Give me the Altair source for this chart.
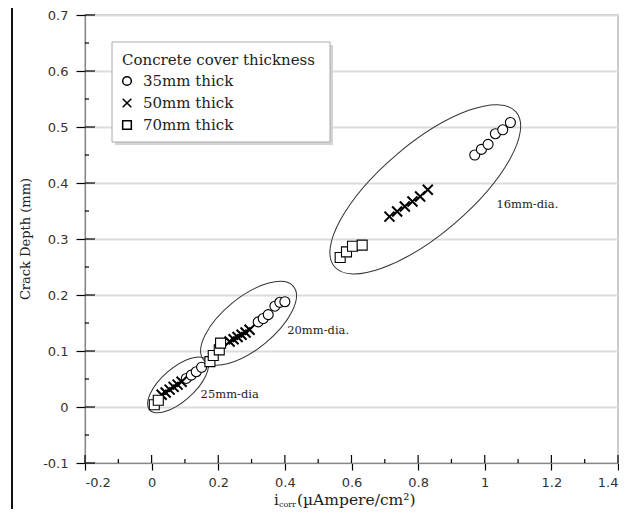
import math
import altair as alt
import pandas as pd

# ---------------- data ----------------
legend_title = "Concrete cover thickness"
series_names = ["35mm thick", "50mm thick", "70mm thick"]

c35_x = [0.104, 0.119, 0.134, 0.150, 0.320, 0.335, 0.350, 0.370, 0.385, 0.400,
         0.970, 0.990, 1.010, 1.032, 1.054, 1.077]
c35_y = [0.051, 0.057, 0.063, 0.071, 0.152, 0.158, 0.165, 0.180, 0.187, 0.188,
         0.450, 0.460, 0.469, 0.488, 0.495, 0.508]

c50_x = [0.030, 0.042, 0.054, 0.066, 0.078, 0.090, 0.234, 0.246, 0.258, 0.270, 0.282, 0.294,
         0.714, 0.737, 0.760, 0.783, 0.806, 0.829]
c50_y = [0.022, 0.026, 0.031, 0.036, 0.040, 0.045, 0.117, 0.121, 0.125, 0.129, 0.133, 0.138,
         0.340, 0.349, 0.358, 0.367, 0.376, 0.388]

c70_x = [0.008, 0.020, 0.175, 0.185, 0.203, 0.207, 0.566, 0.585, 0.603, 0.632]
c70_y = [0.004, 0.012, 0.081, 0.092, 0.102, 0.114, 0.267, 0.277, 0.287, 0.289]

# ellipse annotations: end points of the major axis (data units) and half minor axis (px)
ell_x1 = [-0.006, 0.156, 0.549]
ell_y1 = [-0.005, 0.084, 0.2505]
ell_x2 = [0.164, 0.426, 1.094]
ell_y2 = [0.084, 0.215, 0.527]
ell_minor = [16.5, 26.0, 45.0]

ann_text = ["25mm-dia", "20mm-dia.", "16mm-dia."]
ann_x = [0.147, 0.407, 1.035]
ann_y = [0.021, 0.136, 0.360]

x_major = [-0.2, 0, 0.2, 0.4, 0.6, 0.8, 1, 1.2, 1.4]
x_minor = [-0.1, 0.1, 0.3, 0.5, 0.7, 0.9, 1.1, 1.3]
y_major = [-0.1, 0, 0.1, 0.2, 0.3, 0.4, 0.5, 0.6, 0.7]
y_minor = [-0.05, 0.05, 0.15, 0.25, 0.35, 0.45, 0.55, 0.65]

# ---------------- layout ----------------
W, H = 533, 448
XD = [-0.2, 1.4]
YD = [-0.1, 0.7]
SERIF = "DejaVu Serif"
SANS = "DejaVu Sans"
TXT = "#222"
LBL = "'' + round(datum.value*10)/10"
XPATH = "M -1 -1 L 1 1 M -1 1 L 1 -1"
shapes = ["circle", XPATH, "square"]
widths = [1.1, 2.0, 1.1]

xscale = alt.Scale(domain=XD, nice=False, zero=False)
yscale = alt.Scale(domain=YD, nice=False, zero=False)
xaxis = alt.Axis(values=x_major, title=None, labelExpr=LBL, tickSize=7, tickColor="black",
                 tickWidth=1.2, domainColor="#888", domainWidth=1.2, labelPadding=6,
                 labelFont=SANS, labelFontSize=13, labelColor="#333", grid=False)
yaxis = alt.Axis(values=y_major, title=None, labelExpr=LBL, tickSize=9, tickColor="black",
                 tickWidth=1.2, domainColor="#888", domainWidth=1.2, labelPadding=8,
                 labelFont=SANS, labelFontSize=13, labelColor="#333", grid=True,
                 gridColor="#dcdcdc", gridWidth=2)


def xe(f):
    return alt.X(f"{f}:Q", scale=xscale, axis=xaxis)


def ye(f):
    return alt.Y(f"{f}:Q", scale=yscale, axis=yaxis)


def one(t):
    return pd.DataFrame({"t": [t]})


# data points, one layer per series
point_layers = []
for xs, ys, shp, sw in zip([c35_x, c50_x, c70_x], [c35_y, c50_y, c70_y], shapes, widths):
    point_layers.append(
        alt.Chart(pd.DataFrame({"x": xs, "y": ys})).mark_point(
            shape=shp, filled=True, fill="white", stroke="black", strokeWidth=sw, opacity=1, size=100
        ).encode(x=xe("x"), y=ye("y"))
    )

# ellipses
sx = W / (XD[1] - XD[0])
sy = H / (YD[1] - YD[0])
k = 0.5523
ell_layers = []
for x1, y1, x2, y2, b in zip(ell_x1, ell_y1, ell_x2, ell_y2, ell_minor):
    dx = (x2 - x1) * sx
    dy = (y2 - y1) * sy
    a = math.hypot(dx, dy) / 2
    theta = math.degrees(math.atan2(dy, dx))
    r = b / a
    kr = k * r
    path = (f"M 1 0 C 1 {kr:.4f} {k} {r:.4f} 0 {r:.4f} C {-k} {r:.4f} -1 {kr:.4f} -1 0 "
            f"C -1 {-kr:.4f} {-k} {-r:.4f} 0 {-r:.4f} C {k} {-r:.4f} 1 {-kr:.4f} 1 0 Z")
    df = pd.DataFrame({"cx": [(x1 + x2) / 2], "cy": [(y1 + y2) / 2]})
    ell_layers.append(
        alt.Chart(df).mark_point(shape=path, size=(2 * a) ** 2, angle=(360 - theta) % 360,
                                 filled=False, stroke="#333", strokeWidth=1, opacity=1)
        .encode(x=xe("cx"), y=ye("cy"))
    )

ann = alt.Chart(pd.DataFrame({"t": ann_text, "x": ann_x, "y": ann_y})).mark_text(
    font=SERIF, fontSize=11.5, align="left", baseline="middle", color=TXT
).encode(x=xe("x"), y=ye("y"), text="t:N")

# inward tick parts
ymaj = alt.Chart(pd.DataFrame({"v": y_major})).mark_rule(color="black", strokeWidth=1.2).encode(
    y=ye("v"), x=alt.value(0), x2=alt.value(10))
ymin = alt.Chart(pd.DataFrame({"v": y_minor})).mark_rule(color="black", strokeWidth=1.2).encode(
    y=ye("v"), x=alt.value(0), x2=alt.value(4))
xmaj = alt.Chart(pd.DataFrame({"v": x_major})).mark_rule(color="black", strokeWidth=1.2).encode(
    x=xe("v"), y=alt.value(H), y2=alt.value(H - 8))
xmin = alt.Chart(pd.DataFrame({"v": x_minor})).mark_rule(color="black", strokeWidth=1.2).encode(
    x=xe("v"), y=alt.value(H), y2=alt.value(H - 4))

# legend (drawn by hand so the open symbols show)
LX, LY, LW, LH = 27, 27, 218, 100
leg_shadow = alt.Chart(one(0)).mark_rect(fill="#d4d4d4").encode(
    x=alt.value(LX + 3), x2=alt.value(LX + LW + 3), y=alt.value(LY + 3), y2=alt.value(LY + LH + 3))
leg_box = alt.Chart(one(0)).mark_rect(fill="white", stroke="#aaa", strokeWidth=1).encode(
    x=alt.value(LX), x2=alt.value(LX + LW), y=alt.value(LY), y2=alt.value(LY + LH))
leg_title = alt.Chart(one(legend_title)).mark_text(
    font=SERIF, fontSize=15, align="left", baseline="middle", color=TXT
).encode(text="t:N", x=alt.value(LX + 10), y=alt.value(LY + 18))
leg_layers = [leg_shadow, leg_box, leg_title]
for i, (name, shp) in enumerate(zip(series_names, shapes)):
    yy = LY + 39 + 22 * i
    leg_layers.append(
        alt.Chart(one(name)).mark_point(shape=shp, filled=True, fill="white", stroke="black",
                                        strokeWidth=1.5, opacity=1, size=75)
        .encode(x=alt.value(LX + 15), y=alt.value(yy))
    )
    leg_layers.append(
        alt.Chart(one(name)).mark_text(font=SERIF, fontSize=15, align="left", baseline="middle", color=TXT)
        .encode(text="t:N", x=alt.value(LX + 31), y=alt.value(yy))
    )

# axis titles
ytitle = alt.Chart(one("Crack Depth (mm)")).mark_text(
    font=SERIF, fontSize=13, angle=270, align="center", baseline="middle", color=TXT
).encode(text="t:N", x=alt.value(-59), y=alt.value(224))
xt_i = alt.Chart(one("i")).mark_text(
    font=SERIF, fontSize=15, align="left", baseline="alphabetic", color=TXT
).encode(text="t:N", x=alt.value(189), y=alt.value(490))
xt_corr = alt.Chart(one("corr")).mark_text(
    font=SERIF, fontSize=8, align="left", baseline="alphabetic", color=TXT
).encode(text="t:N", x=alt.value(194), y=alt.value(492))
xt_rest = alt.Chart(one("(µAmpere/cm²)")).mark_text(
    font=SERIF, fontSize=15.5, align="left", baseline="alphabetic", color=TXT
).encode(text="t:N", x=alt.value(212), y=alt.value(490))

# outer frame (left edge)
frame_l = alt.Chart(pd.DataFrame({"f": ["left"]})).mark_rect(color="#111").encode(
    x=alt.value(-74), x2=alt.value(-72), y=alt.value(-7), y2=alt.value(520))

chart = alt.layer(
    frame_l, ymaj, ymin, xmaj, xmin, *ell_layers, ann, *point_layers, *leg_layers,
    ytitle, xt_i, xt_corr, xt_rest
).properties(
    width=W, height=H,
    padding={"left": 77, "top": 7, "right": 1, "bottom": 46},
    autosize=alt.AutoSizeParams(type="none"),
).configure_view(stroke="#bbb", strokeWidth=1.5)

chart.save("out.html", embed_options={"renderer": "svg", "actions": False})
